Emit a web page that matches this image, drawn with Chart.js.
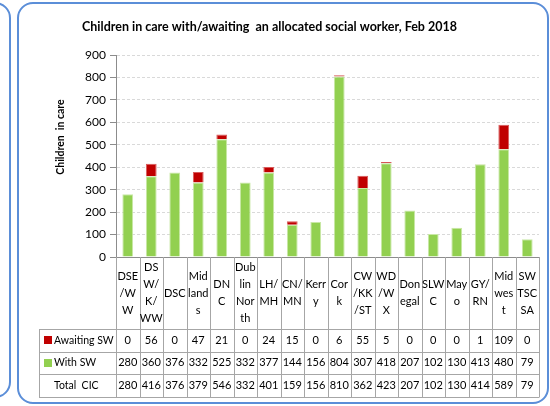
<!DOCTYPE html>
<html><head><meta charset="utf-8">
<script src="https://cdn.jsdelivr.net/npm/chart.js@4"></script>
<style>
html,body{margin:0;padding:0;background:#fff;width:550px;height:406px;overflow:hidden;}
.box{position:absolute;border:2.5px solid #5b8ed8;border-radius:16px;box-sizing:border-box;}
#b1{left:-40px;top:2px;width:51px;height:396px;}
#b2{left:17px;top:2px;width:532px;height:402px;}
canvas{position:absolute;left:0;top:0;}
</style></head><body>
<div class="box" id="b1"></div><div class="box" id="b2"></div>
<canvas id="c" width="550" height="406"></canvas>
<script>
const categories = [
  ["DSE","/W","W"], ["DS","W/","K/","WW"], ["DSC"], ["Mid","land","s"], ["DN","C"],
  ["Dub","lin","Nor","th"], ["LH/","MH"], ["CN/","MN"], ["Kerr","y"], ["Cor","k"],
  ["CW","/KK","/ST"], ["WD","/W","X"], ["Don","egal"], ["SLW","C"], ["May","o"],
  ["GY/","RN"], ["Mid","wes","t"], ["SW","TSC","SA"]
];
const awaitingSW = [0,56,0,47,21,0,24,15,0,6,55,5,0,0,0,1,109,0];
const withSW = [280,360,376,332,525,332,377,144,156,804,307,418,207,102,130,413,480,79];
const totalCIC = [280,416,376,379,546,332,401,159,156,810,362,423,207,102,130,414,589,79];
const yTicks = [0,100,200,300,400,500,600,700,800,900];
const seriesNames = ["Awaiting SW","With SW","Total  CIC"];
const titleText = "Children in care with/awaiting  an allocated social worker, Feb 2018";
const yTitle = "Children  in care";

const FONT = "Lato, 'Open Sans', sans-serif";
const GREEN = "#92d050", RED = "#c00000";

const tablePlugin = {
  id: 'tbl',
  afterDraw(chart) {
    const ctx = chart.ctx, a = chart.chartArea;
    const n = categories.length, cw = (a.right - a.left) / n;
    const legendLeft = 39;
    const rowY = [a.bottom, a.bottom + 72, a.bottom + 94.5, a.bottom + 117, a.bottom + 140];
    ctx.save();
    ctx.strokeStyle = "#a6a6a6";
    ctx.lineWidth = 1;
    ctx.beginPath();
    for (let i = 0; i <= n; i++) {
      const x = Math.round(a.left + i * cw) + 0.5;
      ctx.moveTo(x, a.bottom); ctx.lineTo(x, rowY[4]);
    }
    for (let r = 1; r < rowY.length; r++) {
      const y = Math.round(rowY[r]) + 0.5;
      ctx.moveTo(legendLeft, y); ctx.lineTo(Math.round(a.right) + 0.5, y);
    }
    ctx.moveTo(legendLeft + 0.5, rowY[1]); ctx.lineTo(legendLeft + 0.5, rowY[4]);
    ctx.stroke();

    ctx.fillStyle = "#000";
    ctx.textAlign = "center";
    ctx.textBaseline = "middle";
    ctx.font = "11px " + FONT;
    const hc = (rowY[0] + rowY[1]) / 2, lh = 17;
    categories.forEach((lines, i) => {
      const cx = a.left + (i + 0.5) * cw;
      const y0 = hc - (lines.length - 1) * lh / 2;
      lines.forEach((t, k) => ctx.fillText(t, cx, y0 + k * lh));
    });
    const rows = [awaitingSW, withSW, totalCIC];
    rows.forEach((vals, r) => {
      const cy = (rowY[r + 1] + rowY[r + 2]) / 2;
      vals.forEach((v, i) => ctx.fillText(String(v), a.left + (i + 0.5) * cw, cy));
    });
    // legend column
    ctx.textAlign = "left";
    ctx.font = "10.5px " + FONT;
    const keys = [RED, GREEN, null];
    seriesNames.forEach((name, r) => {
      const cy = (rowY[r + 1] + rowY[r + 2]) / 2;
      if (keys[r]) { ctx.fillStyle = keys[r]; ctx.fillRect(44, Math.round(cy) - 4, 8, 8); }
      ctx.fillStyle = "#000";
      ctx.fillText(name, 54, cy);
    });
    // y axis title
    ctx.save();
    ctx.translate(61, 137);
    ctx.rotate(-Math.PI / 2);
    ctx.textAlign = "center";
    ctx.font = "bold 10.5px " + FONT;
    ctx.fillText(yTitle, 0, 0);
    ctx.restore();
    ctx.restore();
  }
};

new Chart(document.getElementById('c'), {
  type: 'bar',
  data: {
    labels: categories.map(l => l.join('')),
    datasets: [
      { label: "With SW", data: withSW, backgroundColor: GREEN, borderColor: "#c9e8a6", borderWidth: {left:1,right:1,top:1,bottom:0}, borderSkipped: false, stack: 's' },
      { label: "Awaiting SW", data: awaitingSW, backgroundColor: RED, borderColor: "#d85a5a", borderWidth: {left:1,right:1,top:1,bottom:0}, borderSkipped: false, stack: 's' }
    ]
  },
  options: {
    responsive: false,
    animation: false,
    devicePixelRatio: 1,
    layout: { padding: { left: 0, right: 11, top: 0, bottom: 149 } },
    datasets: { bar: { categoryPercentage: 1, barPercentage: 0.46 } },
    plugins: {
      legend: { display: false },
      tooltip: { enabled: false },
      title: {
        display: true, text: titleText, color: "#000",
        font: { family: FONT, size: 12.5, weight: 'bold', lineHeight: 1.2 },
        padding: { top: 19, bottom: 21 }
      }
    },
    scales: {
      x: {
        stacked: true,
        ticks: { display: false },
        grid: { display: false, drawTicks: false },
        border: { display: true, color: "#8c8c8c", width: 1 },
        afterFit(s) { s.height = 0; }
      },
      y: {
        stacked: true, min: 0, max: 900,
        afterBuildTicks(s) { s.ticks = yTicks.map(v => ({ value: v })); },
        ticks: { color: "#000", font: { family: FONT, size: 12 }, padding: 4 },
        grid: { color: "#d9d9d9", tickColor: "#8c8c8c", tickLength: 6, drawOnChartArea: true },
        border: { display: true, color: "#8c8c8c", width: 1, dash: [3, 2] },
        afterFit(s) { s.width = 116; }
      }
    }
  },
  plugins: [tablePlugin]
});
</script></body></html>
